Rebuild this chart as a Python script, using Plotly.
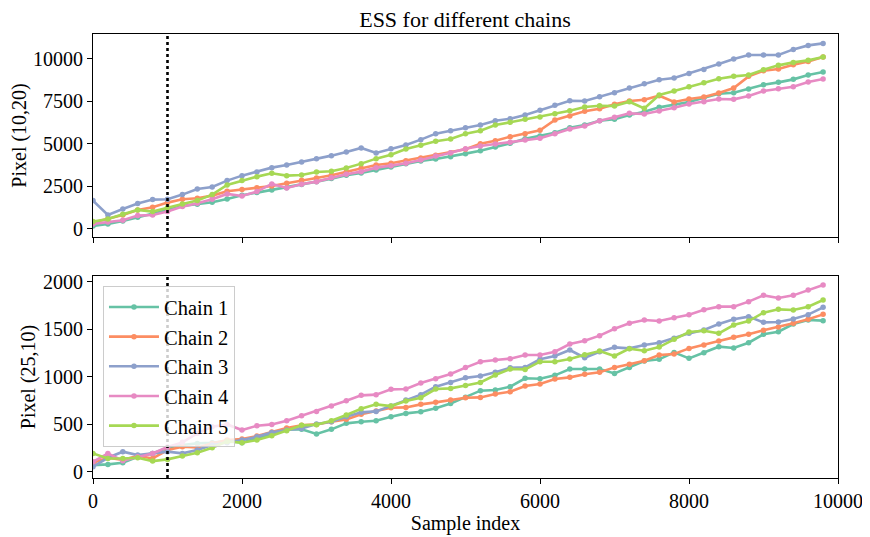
import plotly.graph_objects as go
from plotly.subplots import make_subplots

samples = list(range(0, 10000, 200))

top_chain1 = [176, 294, 470, 686, 862, 1117, 1352, 1450, 1568, 1764, 1980, 2136, 2293, 2430, 2607, 2783, 2960, 3156, 3293, 3469, 3646, 3842, 3998, 4116, 4253, 4430, 4606, 4822, 5037, 5312, 5468, 5664, 5958, 6115, 6370, 6448, 6703, 6899, 7154, 7311, 7468, 7722, 7958, 8016, 8232, 8487, 8624, 8800, 9055, 9232]
top_chain2 = [372, 588, 823, 1117, 1274, 1548, 1744, 1803, 1960, 2215, 2313, 2430, 2528, 2685, 2862, 2999, 3156, 3371, 3567, 3763, 3861, 4018, 4175, 4332, 4488, 4684, 5018, 5194, 5429, 5606, 5802, 6409, 6644, 6919, 7076, 7330, 7526, 7605, 7840, 7468, 7644, 7762, 7997, 8291, 8977, 9310, 9408, 9663, 9859, 10114]
top_chain3 = [1666, 823, 1176, 1490, 1725, 1744, 2019, 2352, 2470, 2842, 3136, 3352, 3606, 3763, 3940, 4136, 4312, 4528, 4763, 4469, 4724, 4939, 5253, 5606, 5782, 5950, 6115, 6370, 6488, 6703, 6978, 7272, 7546, 7526, 7781, 8016, 8291, 8546, 8781, 8879, 9153, 9388, 9702, 9996, 10231, 10231, 10231, 10564, 10800, 10917]
top_chain4 = [294, 412, 510, 784, 823, 1019, 1313, 1509, 1744, 2058, 1940, 2195, 2646, 2411, 2626, 2783, 3018, 3214, 3371, 3606, 3724, 3861, 4057, 4292, 4488, 4714, 4880, 4998, 5096, 5233, 5331, 5606, 5880, 6056, 6370, 6566, 6801, 6762, 6938, 7134, 7350, 7487, 7644, 7625, 7820, 8114, 8252, 8369, 8644, 8820]
top_chain5 = [431, 588, 862, 1117, 1019, 1254, 1470, 1666, 2019, 2587, 2842, 3077, 3273, 3136, 3175, 3352, 3391, 3587, 3842, 4136, 4371, 4704, 4920, 5155, 5292, 5596, 5782, 6115, 6272, 6448, 6586, 6782, 6958, 7174, 7252, 7232, 7487, 7095, 7879, 8114, 8369, 8604, 8840, 8977, 9055, 9369, 9624, 9800, 9918, 10114]

bot_chain1 = [70, 77, 95, 158, 193, 253, 281, 298, 305, 326, 305, 351, 404, 446, 446, 397, 446, 509, 526, 537, 579, 614, 632, 667, 719, 785, 853, 860, 895, 983, 979, 1014, 1081, 1081, 1081, 1035, 1098, 1165, 1183, 1256, 1193, 1253, 1316, 1302, 1358, 1446, 1474, 1555, 1597, 1590]
bot_chain2 = [95, 147, 123, 168, 140, 228, 263, 256, 298, 333, 344, 375, 418, 460, 488, 498, 526, 551, 604, 639, 674, 677, 709, 730, 754, 779, 782, 818, 842, 902, 923, 976, 993, 1025, 1046, 1098, 1130, 1169, 1228, 1239, 1298, 1333, 1376, 1414, 1446, 1488, 1523, 1562, 1604, 1656]
bot_chain3 = [53, 147, 211, 175, 193, 211, 193, 228, 281, 305, 333, 368, 414, 439, 456, 502, 526, 579, 625, 635, 691, 754, 811, 895, 940, 988, 1007, 1046, 1095, 1098, 1183, 1218, 1281, 1200, 1263, 1309, 1298, 1333, 1358, 1404, 1456, 1491, 1555, 1604, 1632, 1572, 1576, 1607, 1653, 1730]
bot_chain4 = [105, 193, 116, 158, 193, 260, 309, 404, 474, 498, 439, 484, 498, 537, 590, 635, 691, 747, 804, 811, 867, 870, 933, 979, 1028, 1096, 1158, 1176, 1190, 1228, 1228, 1263, 1344, 1379, 1432, 1505, 1562, 1597, 1586, 1621, 1653, 1705, 1737, 1737, 1790, 1856, 1828, 1856, 1912, 1965]
bot_chain5 = [193, 140, 140, 147, 112, 130, 165, 200, 253, 319, 305, 333, 379, 432, 488, 495, 537, 597, 663, 709, 691, 744, 779, 870, 877, 907, 940, 1018, 1081, 1077, 1158, 1158, 1186, 1232, 1270, 1218, 1295, 1274, 1312, 1393, 1470, 1484, 1456, 1544, 1586, 1674, 1709, 1702, 1737, 1807]

chain_names = ["Chain 1", "Chain 2", "Chain 3", "Chain 4", "Chain 5"]
colors = ["#66c2a5", "#fc8d62", "#8da0cb", "#e78ac3", "#a6d854"]
burn_in = 1000

x_ticks = [0, 2000, 4000, 6000, 8000, 10000]
top_ticks = [0, 2500, 5000, 7500, 10000]
bot_ticks = [0, 500, 1000, 1500, 2000]

top_series = [top_chain1, top_chain2, top_chain3, top_chain4, top_chain5]
bot_series = [bot_chain1, bot_chain2, bot_chain3, bot_chain4, bot_chain5]

FONT = "Liberation Serif"
TICK_SIZE = 20
LABEL_SIZE = 20

W, H = 862, 529  # page has an 8px body margin

fig = make_subplots(rows=2, cols=1, shared_xaxes=True, vertical_spacing=0.088)

for name, col, ys in zip(chain_names, colors, top_series):
    fig.add_trace(go.Scatter(x=samples, y=ys, mode="lines+markers", name=name,
                             line=dict(color=col, width=2.6), marker=dict(size=5.5, color=col),
                             showlegend=False), row=1, col=1)
for name, col, ys in zip(chain_names, colors, bot_series):
    fig.add_trace(go.Scatter(x=samples, y=ys, mode="lines+markers", name=name,
                             line=dict(color=col, width=2.6), marker=dict(size=5.5, color=col),
                             showlegend=True), row=2, col=1)

for xr, yref in [("x", "y domain"), ("x2", "y2 domain")]:
    fig.add_shape(type="line", xref=xr, yref=yref,
                  x0=burn_in, x1=burn_in, y0=0, y1=1,
                  line=dict(color="black", width=2.6, dash="dot"), layer="above")

axis_common = dict(showgrid=False, zeroline=False, showline=True, linecolor="black", linewidth=1,
                   mirror=True, ticks="outside", ticklen=5, tickwidth=1, tickcolor="black",
                   automargin=False,
                   tickfont=dict(family=FONT, size=TICK_SIZE, color="black"))

fig.update_xaxes(**axis_common, range=[0, 10000], tickvals=x_ticks, ticktext=[str(v) for v in x_ticks])
fig.update_xaxes(showticklabels=False, row=1, col=1)
fig.update_xaxes(title=dict(text="Sample index", font=dict(family=FONT, size=LABEL_SIZE, color="black"), standoff=0),
                 row=2, col=1)
fig.update_yaxes(**axis_common)
fig.update_yaxes(range=[-470, 11470], tickvals=top_ticks, ticktext=[str(v) for v in top_ticks],
                 title=dict(text="Pixel (10,20)", font=dict(family=FONT, size=LABEL_SIZE, color="black"), standoff=1),
                 row=1, col=1)
fig.update_yaxes(range=[-66, 2060], tickvals=bot_ticks, ticktext=[str(v) for v in bot_ticks],
                 title=dict(text="Pixel (25,10)", font=dict(family=FONT, size=LABEL_SIZE, color="black"), standoff=1),
                 row=2, col=1)

fig.update_layout(
    width=W, height=H,
    margin=dict(l=85, r=32, t=26, b=59),
    paper_bgcolor="white", plot_bgcolor="white",
    title=dict(text="ESS for different chains", x=(465 - 8) / W, xanchor="center",
               yref="container", y=1 - 11 / H, yanchor="middle",
               font=dict(family=FONT, size=22, color="black")),
    legend=dict(x=0.0134, y=0.432, xanchor="left", yanchor="top",
                bgcolor="rgba(255,255,255,0.8)", bordercolor="#cccccc", borderwidth=1,
                itemwidth=50,
                font=dict(family=FONT, size=20.5, color="black"), tracegroupgap=0),
    showlegend=True,
)
fig.update_layout(yaxis=dict(domain=[0.543, 1.0]), yaxis2=dict(domain=[0.0, 0.455]))

fig.write_html("out.html")
